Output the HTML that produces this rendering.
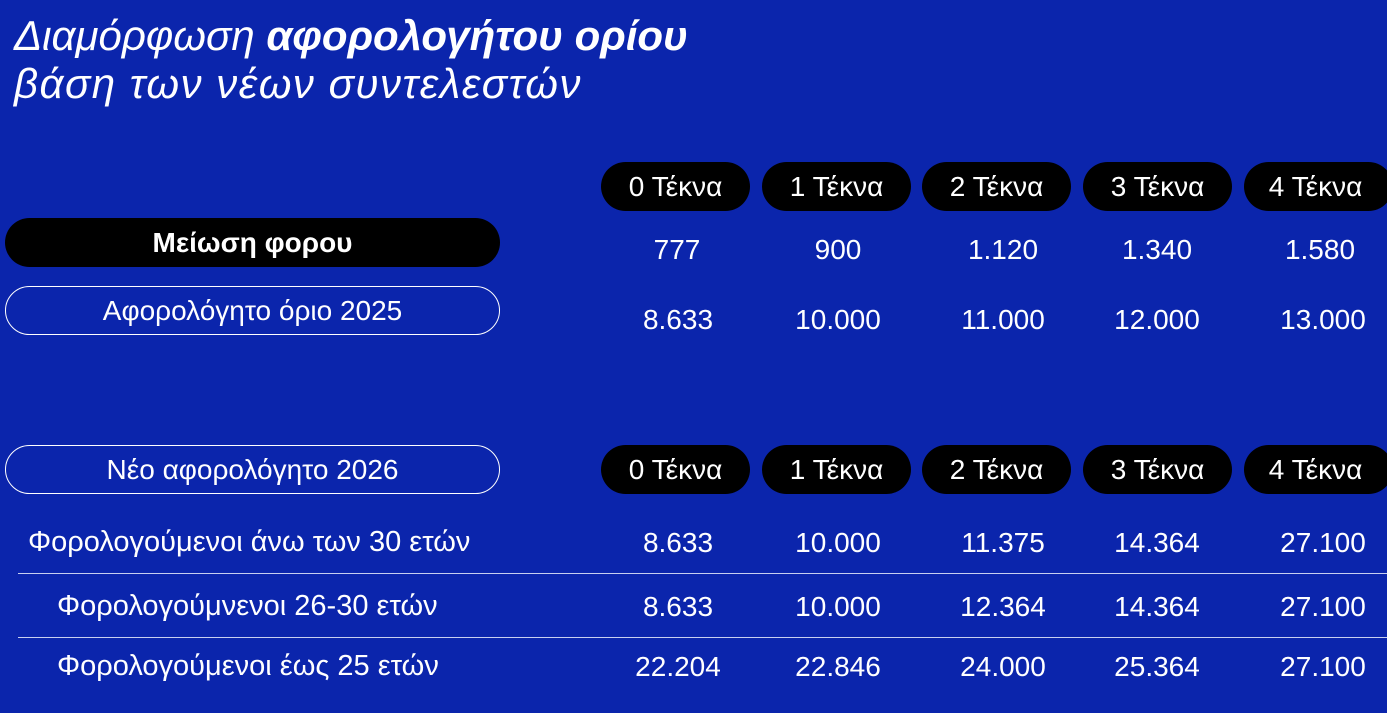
<!DOCTYPE html>
<html><head><meta charset="utf-8"><style>
body{margin:0;width:1387px;height:713px;overflow:hidden;background:#0b25ac;font-family:"Liberation Sans","DejaVu Sans",sans-serif;color:#fff;position:relative}
.t{position:absolute;left:14px;font-size:42px;font-style:italic;font-weight:300;white-space:nowrap}
.p{position:absolute;height:49px;border-radius:25px;display:flex;align-items:center;justify-content:center;font-size:28px;box-sizing:border-box;white-space:nowrap}
.b{background:#000}
.o{border:1.5px solid #fff}
.v{position:absolute;width:160px;margin-left:-80px;text-align:center;font-size:28px;white-space:nowrap}
.l{position:absolute;font-size:29px;white-space:nowrap}
.hr{position:absolute;left:18px;right:0;height:1px;background:#c8d0f0}
</style></head><body>
<div class="t" style="top:12px">Διαμόρφωση <b style="font-weight:700">αφορολογήτου ορίου</b></div>
<div class="t" style="top:60px;letter-spacing:1.5px">βάση των νέων συντελεστών</div>

<div class="p b" style="left:601px;top:162px;width:149px">0 Τέκνα</div>
<div class="p b" style="left:762px;top:162px;width:149px">1 Τέκνα</div>
<div class="p b" style="left:922px;top:162px;width:149px">2 Τέκνα</div>
<div class="p b" style="left:1083px;top:162px;width:149px">3 Τέκνα</div>
<div class="p b" style="left:1244px;top:162px;width:149px;padding-right:6px">4 Τέκνα</div>

<div class="p b" style="left:5px;top:218px;width:495px;font-weight:700">Μείωση φορου</div>
<div class="p o" style="left:5px;top:286px;width:495px">Αφορολόγητο όριο 2025</div>
<div class="p o" style="left:5px;top:445px;width:495px">Νέο αφορολόγητο 2026</div>

<div class="p b" style="left:601px;top:445px;width:149px">0 Τέκνα</div>
<div class="p b" style="left:762px;top:445px;width:149px">1 Τέκνα</div>
<div class="p b" style="left:922px;top:445px;width:149px">2 Τέκνα</div>
<div class="p b" style="left:1083px;top:445px;width:149px">3 Τέκνα</div>
<div class="p b" style="left:1244px;top:445px;width:149px;padding-right:6px">4 Τέκνα</div>

<div class="v" style="left:677px;top:234px">777</div>
<div class="v" style="left:838px;top:234px">900</div>
<div class="v" style="left:1003px;top:234px">1.120</div>
<div class="v" style="left:1157px;top:234px">1.340</div>
<div class="v" style="left:1320px;top:234px">1.580</div>

<div class="v" style="left:678px;top:304px">8.633</div>
<div class="v" style="left:838px;top:304px">10.000</div>
<div class="v" style="left:1003px;top:304px">11.000</div>
<div class="v" style="left:1157px;top:304px">12.000</div>
<div class="v" style="left:1323px;top:304px">13.000</div>

<div class="l" style="left:28px;top:526px">Φορολογούμενοι άνω των 30 ετών</div>
<div class="v" style="left:678px;top:527px">8.633</div>
<div class="v" style="left:838px;top:527px">10.000</div>
<div class="v" style="left:1003px;top:527px">11.375</div>
<div class="v" style="left:1157px;top:527px">14.364</div>
<div class="v" style="left:1323px;top:527px">27.100</div>
<div class="hr" style="top:573px"></div>

<div class="l" style="left:57px;top:590px">Φορολογούμνενοι 26-30 ετών</div>
<div class="v" style="left:678px;top:591px">8.633</div>
<div class="v" style="left:838px;top:591px">10.000</div>
<div class="v" style="left:1003px;top:591px">12.364</div>
<div class="v" style="left:1157px;top:591px">14.364</div>
<div class="v" style="left:1323px;top:591px">27.100</div>
<div class="hr" style="top:637px"></div>

<div class="l" style="left:57px;top:650px">Φορολογούμενοι έως 25 ετών</div>
<div class="v" style="left:678px;top:651px">22.204</div>
<div class="v" style="left:838px;top:651px">22.846</div>
<div class="v" style="left:1003px;top:651px">24.000</div>
<div class="v" style="left:1157px;top:651px">25.364</div>
<div class="v" style="left:1323px;top:651px">27.100</div>
</body></html>
